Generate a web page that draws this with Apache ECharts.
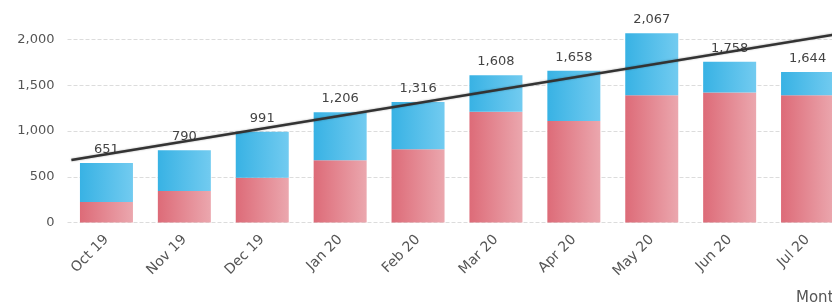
<!DOCTYPE html>
<html>
<head>
<meta charset="utf-8">
<script src="https://cdn.jsdelivr.net/npm/echarts@6/dist/echarts.min.js"></script>
<style>
  html, body { margin: 0; padding: 0; background: #fff; }
  #chart { width: 832px; height: 304px; }
</style>
</head>
<body>
<div id="chart"></div>
<script>
// values
const months = ['Oct 19', 'Nov 19', 'Dec 19', 'Jan 20', 'Feb 20', 'Mar 20', 'Apr 20', 'May 20', 'Jun 20', 'Jul 20']
const redVals = [225, 345, 490, 680, 800, 1210, 1110, 1390, 1420, 1390]
const blueVals = [426, 445, 501, 526, 516, 398, 548, 677, 338, 254]
// trend line ends, x in category index units
const trendX = [-0.45, 9.5]
const trendY = [683, 2076]
const yTicks = [0, 500, 1000, 1500, 2000]

const font = 'DejaVu Sans'

const grad = (a, b) => new echarts.graphic.LinearGradient(0, 0, 1, 0, [
  { offset: 0, color: a },
  { offset: 1, color: b }
])

const chart = echarts.init(document.getElementById('chart'))

chart.setOption({
  animation: false,
  title: {
    text: 'Month',
    left: 791,
    top: 286,
    textStyle: { fontFamily: font, fontSize: 15, fontWeight: 'normal', color: '#555' }
  },
  grid: { left: 67.5, top: 39.5, width: 779, height: 183, outerBoundsMode: 'none', containLabel: false },
  xAxis: [
    {
      type: 'category',
      data: months,
      axisLine: { show: false },
      axisTick: { show: false },
      axisLabel: { rotate: 45, margin: 15, fontFamily: font, fontSize: 14, color: '#555' }
    },
    {
      type: 'value',
      min: -0.5,
      max: months.length - 0.5,
      show: false
    }
  ],
  yAxis: {
    type: 'value',
    min: yTicks[0],
    max: yTicks[yTicks.length - 1],
    interval: 500,
    axisLine: { show: false },
    axisTick: { show: false },
    axisLabel: {
      margin: 13,
      fontFamily: font,
      fontSize: 13,
      color: '#555',
      formatter: v => v.toLocaleString('en-US')
    },
    splitLine: { lineStyle: { color: '#dcdcdc', type: [4, 2] } }
  },
  series: [
    {
      type: 'bar',
      stack: 'm',
      barWidth: 53,
      clip: false,
      data: redVals,
      itemStyle: { color: grad('#dd6b78', '#eba7ae') }
    },
    {
      type: 'bar',
      stack: 'm',
      barWidth: 53,
      clip: false,
      data: blueVals,
      itemStyle: { color: grad('#38b2e4', '#72cbf0') },
      label: {
        show: true,
        position: 'top',
        distance: 7,
        fontFamily: font,
        fontSize: 13,
        color: '#444',
        formatter: p => (redVals[p.dataIndex] + blueVals[p.dataIndex]).toLocaleString('en-US')
      }
    },
    {
      type: 'line',
      xAxisIndex: 1,
      data: trendX.map((x, i) => [x, trendY[i]]),
      symbol: 'none',
      clip: false,
      lineStyle: { color: '#333', width: 2.5, shadowColor: 'rgba(0,0,0,0.35)', shadowBlur: 2 },
      z: 5
    }
  ]
})
</script>
</body>
</html>
